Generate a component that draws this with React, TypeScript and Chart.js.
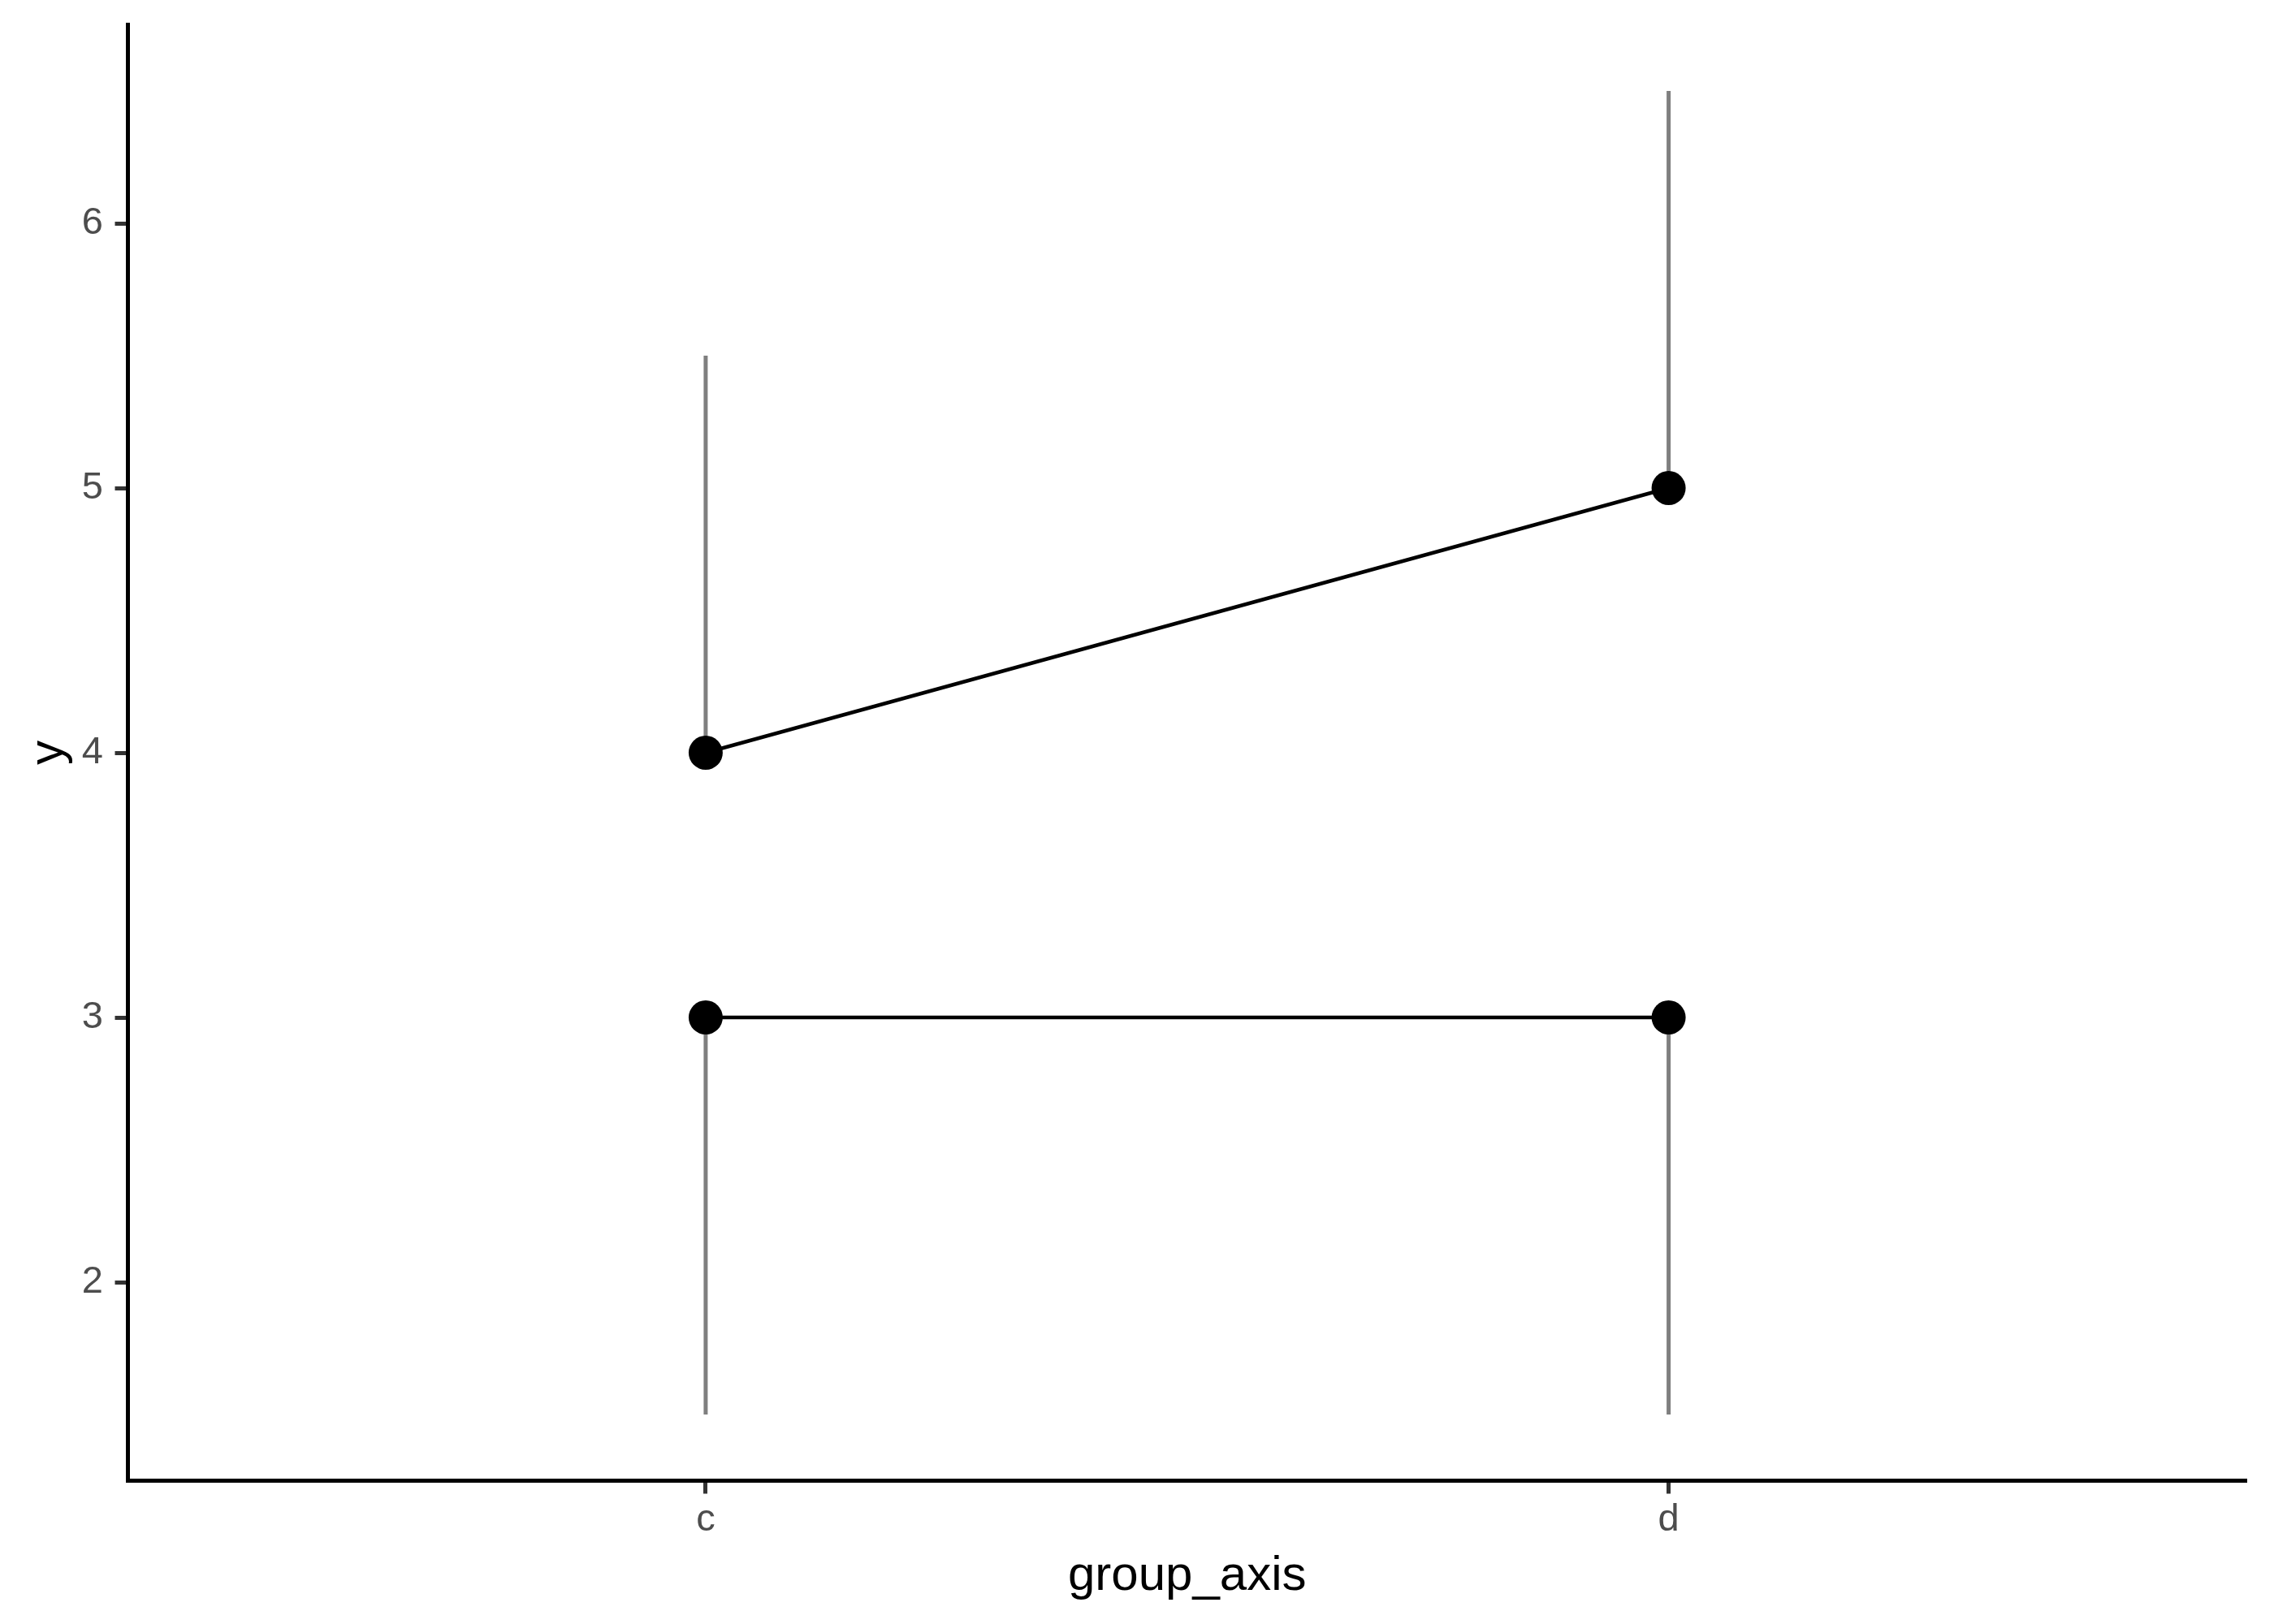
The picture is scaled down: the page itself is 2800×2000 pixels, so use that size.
import React, { useEffect, useRef } from "react";
import { Chart, registerables } from "chart.js";

Chart.register(...registerables);

const categories = ["c", "d"];
const upperSeries = [4, 5];
const lowerSeries = [3, 3];
const upperRangeLow = [4, 5];
const upperRangeHigh = [5.5, 6.5];
const lowerRangeLow = [1.5, 1.5];
const lowerRangeHigh = [3, 3];
const yTicks = [2, 3, 4, 5, 6];

const FONT = "'Liberation Sans', Arial, sans-serif";

export default function App() {
  const ref = useRef<HTMLCanvasElement | null>(null);

  useEffect(() => {
    if (!ref.current) return;
    const xPos = categories.map((_, i) => i + 1);
    const rangeSets: any[] = [];
    const addRanges = (lo: number[], hi: number[]) => {
      xPos.forEach((x, i) => {
        rangeSets.push({
          type: "line",
          data: [
            { x, y: lo[i] },
            { x, y: hi[i] },
          ],
          borderColor: "#7f7f7f",
          borderWidth: 5,
          borderCapStyle: "butt",
          pointRadius: 0,
          order: 2,
        });
      });
    };
    addRanges(upperRangeLow, upperRangeHigh);
    addRanges(lowerRangeLow, lowerRangeHigh);

    const seriesSet = (vals: number[]) => ({
      type: "line",
      data: xPos.map((x, i) => ({ x, y: vals[i] })),
      borderColor: "#000000",
      borderWidth: 4.5,
      pointRadius: 21,
      pointBackgroundColor: "#000000",
      pointBorderWidth: 0,
      order: 1,
    });

    const chart = new Chart(ref.current, {
      type: "line",
      data: {
        datasets: [...rangeSets, seriesSet(upperSeries), seriesSet(lowerSeries)],
      },
      options: {
        animation: false,
        responsive: false,
        devicePixelRatio: 1,
        layout: { padding: { left: 0, top: 30.5, right: 34, bottom: 0 } },
        plugins: { legend: { display: false }, tooltip: { enabled: false } },
        scales: {
          x: {
            type: "linear",
            min: 0.4,
            max: 2.6,
            afterBuildTicks: (scale: any) => {
              scale.ticks = xPos.map((v) => ({ value: v }));
            },
            afterFit: (scale: any) => {
              scale.height = 176.5;
              scale.paddingLeft = 0;
              scale.paddingRight = 0;
            },
            ticks: {
              callback: (v: any) => categories[Math.round(Number(v)) - 1] ?? "",
              color: "#4d4d4d",
              font: { family: FONT, size: 47, lineHeight: 1 },
              padding: 9,
              maxRotation: 0,
              autoSkip: false,
            },
            grid: {
              display: true,
              drawOnChartArea: false,
              drawTicks: true,
              tickLength: 16,
              tickWidth: 5,
              tickColor: "#333333",
            },
            border: { display: true, color: "#000000", width: 5 },
            title: {
              display: true,
              text: "group_axis",
              color: "#000000",
              font: { family: FONT, size: 60, lineHeight: 1.2 },
              padding: { top: 0, bottom: 23 },
            },
          },
          y: {
            type: "linear",
            min: 1.25,
            max: 6.75,
            afterBuildTicks: (scale: any) => {
              scale.ticks = yTicks.map((v) => ({ value: v }));
            },
            afterFit: (scale: any) => {
              scale.width = 157.5;
              scale.paddingTop = 0;
              scale.paddingBottom = 0;
            },
            ticks: {
              color: "#4d4d4d",
              font: { family: FONT, size: 47, lineHeight: 1 },
              padding: 14.5,
            },
            grid: {
              display: true,
              drawOnChartArea: false,
              drawTicks: true,
              tickLength: 16,
              tickWidth: 5,
              tickColor: "#333333",
            },
            border: { display: true, color: "#000000", width: 5 },
            title: {
              display: true,
              text: "y",
              color: "#000000",
              font: { family: FONT, size: 60, lineHeight: 1.2 },
              padding: { top: 24, bottom: 0 },
            },
          },
        },
      },
    } as any);
    return () => chart.destroy();
  }, []);

  return (
    <div style={{ position: "absolute", left: 0, top: 0, width: 2800, height: 2000, background: "#ffffff" }}>
      <canvas ref={ref} width={2800} height={2000} style={{ width: 2800, height: 2000, display: "block" }} />
    </div>
  );
}
